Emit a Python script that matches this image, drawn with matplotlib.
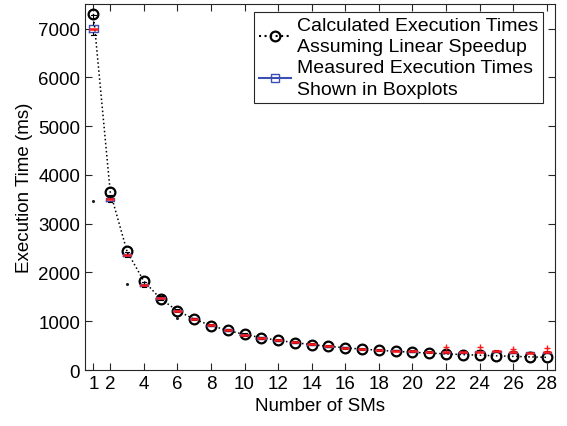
import numpy as np
import matplotlib.pyplot as plt
from matplotlib.lines import Line2D

plt.rcParams['font.family'] = ['Liberation Sans', 'DejaVu Sans']
plt.rcParams['font.size'] = 13.5

# Number of SMs
sms = list(range(1, 29))

# Calculated execution times assuming linear speedup (ms)
calc_times = [7300, 3650, 2433, 1825, 1460, 1217, 1043, 913, 811, 730,
              664, 608, 562, 521, 487, 456, 429, 406, 384, 365,
              348, 332, 317, 304, 292, 281, 270, 261]

# Measured execution times, boxplot summary (ms)
med = [7000, 3500, 2360, 1745, 1470, 1220, 1050, 920, 820, 725,
       655, 610, 570, 525, 485, 455, 430, 410, 400, 385,
       370, 365, 360, 375, 385, 365, 355, 365]
q1 = [6930, 3470, 2340, 1725, 1455, 1205, 1040, 910, 810, 715,
      645, 600, 560, 515, 478, 448, 422, 402, 392, 378,
      362, 356, 352, 366, 376, 357, 348, 357]
q3 = [7080, 3530, 2385, 1770, 1490, 1235, 1062, 932, 832, 738,
      668, 622, 580, 536, 495, 465, 440, 420, 410, 395,
      380, 378, 372, 388, 398, 378, 368, 378]
whislo = [6860, 3440, 2320, 1700, 1440, 1190, 1030, 900, 800, 705,
          638, 592, 552, 508, 470, 440, 415, 396, 386, 372,
          356, 350, 346, 360, 370, 350, 342, 350]
whishi = [7280, 3580, 2420, 1810, 1510, 1250, 1075, 945, 845, 750,
          680, 632, 592, 546, 505, 475, 450, 430, 420, 405,
          390, 405, 385, 415, 410, 390, 380, 400]
# red outliers above the boxes
red_fliers = {22: [470], 24: [480], 26: [440], 28: [450]}
# small dark stray points
stray_x = [1, 3, 6]
stray_y = [3460, 1755, 1060]

stats = []
for i, n in enumerate(sms):
    stats.append(dict(med=med[i], q1=q1[i], q3=q3[i],
                      whislo=whislo[i], whishi=whishi[i],
                      fliers=red_fliers.get(n, [])))

fig = plt.figure(figsize=(5.67, 4.27), dpi=100)
ax = fig.add_axes([0.150, 0.131, 0.829, 0.857])

ax.plot(sms, calc_times, ':', color='black', lw=1.1, marker='o',
        markersize=7, markerfacecolor='none', markeredgewidth=1.6,
        zorder=2)
ax.plot(stray_x, stray_y, '.', color='#222222', markersize=2.5, zorder=2)

ax.bxp(stats, positions=sms, widths=0.5, manage_ticks=False,
       boxprops=dict(color='#3b4fb5', lw=1),
       medianprops=dict(color='#ff1a1a', lw=1.8),
       whiskerprops=dict(color='black', lw=0.8, linestyle='--'),
       capprops=dict(color='black', lw=0.8),
       flierprops=dict(marker='+', markeredgecolor='#ff1a1a',
                       markersize=5),
       zorder=3)

ax.set_xlim(0.5, 28.5)
ax.set_ylim(0, 7500)
ax.set_xticks([1] + list(range(2, 29, 2)))
ax.set_yticks(range(0, 7001, 1000))
ax.tick_params(direction='in', top=True, right=True, length=5,
               color='#262626')
for s in ax.spines.values():
    s.set_color('#262626')
    s.set_linewidth(0.8)

ax.set_xlabel('Number of SMs')
ax.set_ylabel('Execution Time (ms)')

handles = [
    Line2D([], [], linestyle=':', color='black', marker='o',
           markerfacecolor='none', markeredgewidth=1.6, markersize=7),
    Line2D([], [], linestyle='-', color='#3b4fb5', marker='s',
           markerfacecolor='none', markersize=6),
]
labels = ['Calculated Execution Times\nAssuming Linear Speedup',
          'Measured Execution Times\nShown in Boxplots']
leg = ax.legend(handles, labels, loc='upper right',
                bbox_to_anchor=(543 / 567, (427 - 13) / 427),
                bbox_transform=fig.transFigure, fontsize=14,
                fancybox=False, framealpha=1, edgecolor='#262626',
                handlelength=1.65, borderpad=0.25, labelspacing=0.2,
                handletextpad=0.3, borderaxespad=0)
for t in leg.get_texts():
    t.set_linespacing(1.35)
leg.get_frame().set_linewidth(0.8)

fig.savefig('out.png', dpi=100)
